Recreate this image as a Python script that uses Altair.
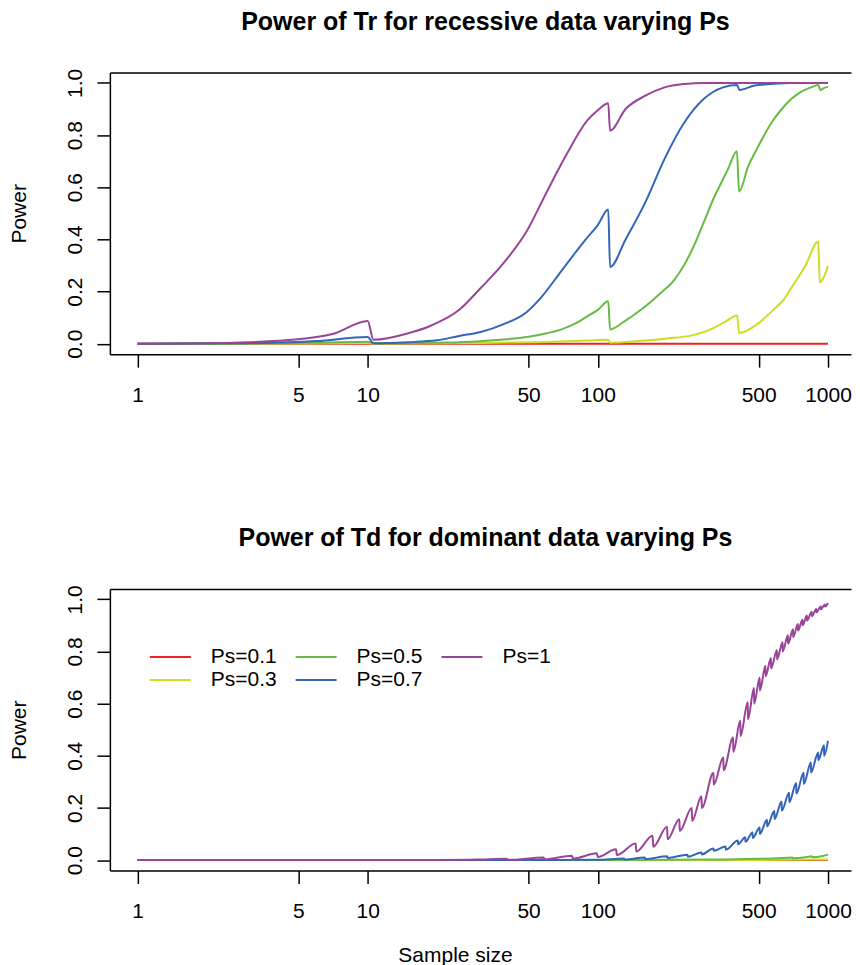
import altair as alt
import pandas as pd

# ---------------- data ----------------
series_labels = ["Ps=0.1", "Ps=0.3", "Ps=0.5", "Ps=0.7", "Ps=1"]
series_colors = ["#EE2222", "#CCDD22", "#66BB44", "#3366BB", "#994499"]
legend_order = ["Ps=0.1", "Ps=0.5", "Ps=1", "Ps=0.3", "Ps=0.7"]

x_ticks = [1, 5, 10, 50, 100, 500, 1000]
y_ticks = [0.0, 0.2, 0.4, 0.6, 0.8, 1.0]

panel_titles = ["Power of Tr for recessive data varying Ps",
                "Power of Td for dominant data varying Ps"]
y_title = "Power"
x_title = "Sample size"

# top panel (Tr, recessive)
tr_01_n = [1, 1000]
tr_01_p = [0.0, 0.0]

tr_03_n = [1, 5, 10, 10.6, 30, 60, 90, 111, 113, 150, 200, 256, 300, 356, 403, 411,
           496, 571, 646, 694, 799, 907, 921, 1000]
tr_03_p = [0.0, 0.001, 0.003, 0.001, 0.003, 0.007, 0.012, 0.015, 0.004, 0.010, 0.020,
           0.032, 0.050, 0.083, 0.108, 0.041, 0.077, 0.125, 0.172, 0.215, 0.300, 0.392,
           0.236, 0.298]

tr_05_n = [1, 3, 6, 10, 10.6, 20, 30, 40, 50, 60, 70, 80, 90, 100, 111, 113, 130, 156,
           185, 215, 240, 262, 290, 318, 345, 368, 402, 411, 450, 493, 571, 630, 694,
           760, 843, 908, 925, 960, 1000]
tr_05_p = [0.0, 0.001, 0.004, 0.008, 0.001, 0.004, 0.009, 0.017, 0.027, 0.040, 0.056,
           0.078, 0.105, 0.130, 0.163, 0.055, 0.085, 0.134, 0.190, 0.245, 0.310, 0.377,
           0.470, 0.556, 0.620, 0.670, 0.738, 0.584, 0.680, 0.750, 0.850, 0.900, 0.939,
           0.965, 0.983, 0.992, 0.973, 0.980, 0.986]

tr_07_n = [1, 3, 6, 10, 10.6, 15, 20, 25, 31, 39, 49, 57, 68, 80, 89, 100, 111, 113,
           132, 161, 195, 238, 289, 350, 403, 412, 480, 570, 700, 1000]
tr_07_p = [0.0, 0.002, 0.010, 0.026, 0.002, 0.006, 0.013, 0.030, 0.045, 0.075, 0.121,
           0.180, 0.268, 0.350, 0.402, 0.455, 0.515, 0.294, 0.400, 0.543, 0.709, 0.849,
           0.939, 0.983, 0.992, 0.973, 0.990, 0.996, 1.0, 1.0]

tr_1_n = [1, 2, 3, 4.4, 7.1, 10, 10.6, 15, 18.9, 25, 30.7, 39, 49, 58, 61, 74, 90, 100,
          111, 113, 132, 161, 195, 238, 289, 400, 1000]
tr_1_p = [0.0, 0.002, 0.006, 0.013, 0.038, 0.087, 0.015, 0.040, 0.070, 0.130, 0.210,
          0.310, 0.430, 0.556, 0.594, 0.734, 0.856, 0.895, 0.922, 0.817, 0.900, 0.951,
          0.983, 0.996, 1.0, 1.0, 1.0]

# bottom panel (Td, dominant)
td_01_n = [1, 1000]
td_01_p = [0.0, 0.0]

td_03_n = [1, 300, 600, 1000]
td_03_p = [0.0, 0.0005, 0.001, 0.002]

td_05_n = [1, 100, 200, 300, 400, 500, 600, 700, 705, 800, 850, 855, 950, 1000]
td_05_p = [0.0, 0.0, 0.001, 0.002, 0.003, 0.005, 0.007, 0.010, 0.007, 0.011, 0.015,
           0.011, 0.016, 0.021]

td_07_n = [1, 50, 100, 130, 131, 160, 161, 200, 201, 245, 246, 282, 283, 318, 319, 359,
           360, 406, 407, 437, 438, 470, 471, 505, 506, 543, 544, 585, 586, 629, 630,
           678, 679, 728, 729, 784, 785, 843, 844, 907, 908, 961, 962, 1000]
td_07_p = [0.0, 0.0, 0.001, 0.006, 0.002, 0.010, 0.004, 0.015, 0.008, 0.021, 0.013,
           0.029, 0.022, 0.045, 0.036, 0.052, 0.040, 0.075, 0.061, 0.088, 0.070, 0.106,
           0.085, 0.125, 0.100, 0.155, 0.130, 0.188, 0.158, 0.225, 0.190, 0.258, 0.222,
           0.296, 0.255, 0.335, 0.292, 0.374, 0.336, 0.413, 0.383, 0.440, 0.400, 0.457]

td_1_n = [1, 10, 20, 30, 40, 41, 58, 59, 77, 78, 99, 100, 120, 121, 146, 147, 173, 174,
          200, 201, 226, 227, 256, 257, 282, 283, 318, 319, 351, 352, 387, 388, 416, 417,
          448, 449, 477, 478, 505, 506, 535, 536, 565, 566, 600, 601, 635, 636, 670, 671,
          705, 706, 740, 741, 775, 776, 810, 811, 850, 851, 890, 891, 930, 931, 970, 971,
          1000]
td_1_p = [0.0, 0.0, 0.0005, 0.002, 0.005, 0.001, 0.010, 0.003, 0.017, 0.006, 0.026,
          0.012, 0.042, 0.020, 0.064, 0.033, 0.093, 0.051, 0.128, 0.080, 0.157, 0.112,
          0.200, 0.150, 0.245, 0.200, 0.335, 0.290, 0.393, 0.345, 0.470, 0.415, 0.534,
          0.476, 0.605, 0.540, 0.660, 0.600, 0.700, 0.650, 0.745, 0.705, 0.775, 0.735,
          0.805, 0.770, 0.835, 0.800, 0.862, 0.830, 0.885, 0.855, 0.905, 0.880, 0.922,
          0.900, 0.938, 0.918, 0.952, 0.935, 0.963, 0.950, 0.972, 0.962, 0.980, 0.972,
          0.986]

top_series = [(series_labels[0], tr_01_n, tr_01_p), (series_labels[1], tr_03_n, tr_03_p),
              (series_labels[2], tr_05_n, tr_05_p), (series_labels[3], tr_07_n, tr_07_p),
              (series_labels[4], tr_1_n, tr_1_p)]
bottom_series = [(series_labels[0], td_01_n, td_01_p), (series_labels[1], td_03_n, td_03_p),
                 (series_labels[2], td_05_n, td_05_p), (series_labels[3], td_07_n, td_07_p),
                 (series_labels[4], td_1_n, td_1_p)]


def to_frame(series):
    rows = []
    for label, ns, ps in series:
        for i, (n, p) in enumerate(zip(ns, ps)):
            rows.append({"series": label, "n": n, "power": p, "idx": i})
    return pd.DataFrame(rows)


top_df = to_frame(top_series)
bottom_df = to_frame(bottom_series)

# ---------------- styling ----------------
FONT = "Liberation Sans"
PLOT_W = 742
PLOT_H = 282
# log axis with R-style padding on the left; box open on the right like the cropped original
x_lo = 10 ** (-0.12)
x_hi = 10 ** (3.10)
xscale = alt.Scale(type="log", domain=[x_lo, x_hi], nice=False)
yscale = alt.Scale(domain=[-0.04, 1.04], nice=False, zero=False)

color_range = [series_colors[series_labels.index(s)] for s in legend_order]


def x_axis(with_title):
    kw = dict(values=x_ticks, format="d", tickSize=13, tickWidth=1.5, tickColor="black",
              domainColor="black", domainWidth=1.5, labelFontSize=21, labelColor="black",
              labelFont=FONT, labelPadding=34, labelBaseline="alphabetic",
              labelFlush=False, labelOverlap=False, grid=False)
    if with_title:
        kw.update(title=x_title, titleFontSize=21, titleFont=FONT, titleFontWeight="normal",
                  titleColor="black", titleX=345.5, titleY=91, titleAlign="center",
                  titleBaseline="alphabetic")
    else:
        kw.update(title=None)
    return alt.Axis(**kw)


y_axis = alt.Axis(values=y_ticks, format=".1f", tickSize=13, tickWidth=1.5,
                  tickColor="black", domainColor="black", domainWidth=1.5,
                  labelFontSize=21, labelColor="black", labelFont=FONT, labelAngle=270,
                  labelAlign="center", labelBaseline="alphabetic", labelPadding=15,
                  labelFlush=False, grid=False, title=y_title, titleFontSize=21,
                  titleFont=FONT, titleFontWeight="normal", titleColor="black",
                  titleAngle=270, titleX=-84, titleY=PLOT_H / 2, titleAlign="center",
                  titleBaseline="alphabetic")


def panel(df, title, with_xtitle, with_legend):
    if with_legend:
        legend = alt.Legend(orient="none", legendX=39, legendY=57.6, direction="horizontal",
                            columns=3, symbolType="stroke", symbolSize=1681,
                            symbolStrokeWidth=2, clipHeight=21, labelFontSize=21,
                            labelFont=FONT, labelColor="black", labelOffset=19,
                            columnPadding=18, rowPadding=1.2, title=None, padding=0)
    else:
        legend = None
    lines = alt.Chart(df).mark_line(strokeWidth=2, interpolate="monotone").encode(
        x=alt.X("n:Q", scale=xscale, axis=x_axis(with_xtitle)),
        y=alt.Y("power:Q", scale=yscale, axis=y_axis),
        color=alt.Color("series:N", scale=alt.Scale(domain=legend_order, range=color_range),
                        legend=legend),
        order="idx:Q",
    )
    frame_top = alt.Chart(df).mark_line(opacity=0).encode(
        x=alt.X("n:Q", scale=xscale,
                axis=alt.Axis(orient="top", labels=False, ticks=False, domainColor="black",
                              domainWidth=1.5, grid=False, title=None)),
        y=alt.Y("power:Q", scale=yscale, axis=y_axis),
        detail="series:N",
    )
    return alt.layer(lines, frame_top).resolve_axis(x="independent").properties(
        width=PLOT_W, height=PLOT_H,
        title=alt.TitleParams(text=title, fontSize=25, fontWeight="bold", font=FONT,
                              color="black", anchor="middle", frame="group", dx=5,
                              baseline="alphabetic", offset=13.4),
    )


top = panel(top_df, panel_titles[0], False, False)
bottom = panel(bottom_df, panel_titles[1], True, True)

chart = alt.vconcat(top, bottom, spacing=119).resolve_scale(color="independent").properties(
    padding={"left": 0, "top": 0, "right": 0, "bottom": 0}
).configure(font=FONT).configure_view(stroke="transparent")

chart.save("out.html", embed_options={"renderer": "svg", "actions": False})
